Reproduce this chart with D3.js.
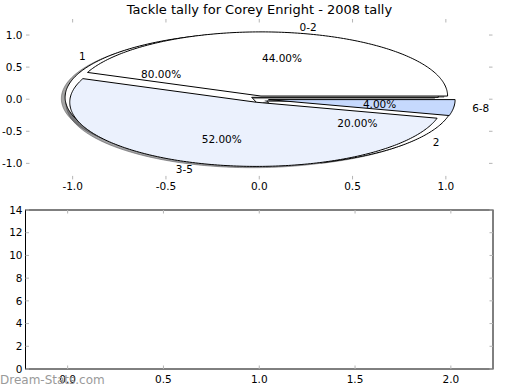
<!DOCTYPE html>
<html>
<head>
<meta charset="utf-8">
<script src="https://cdn.jsdelivr.net/npm/d3@7"></script>
<style>
  html, body { margin: 0; padding: 0; background: #fff; }
  text { font-family: "DejaVu Sans", sans-serif; }
</style>
</head>
<body>
<svg id="chart" width="520" height="390"></svg>
<script>
// ---------------- data ----------------
const title = "Tackle tally for Corey Enright - 2008 tally";
// first pie (drawn underneath)
const pieBLabels = ["1", "2"];
const pieBValues = [80, 20];
const pieBColors = ["#ffffff", "#ffffff"];
// second pie (drawn on top)
const pieALabels = ["0-2", "3-5", "6-8"];
const pieAValues = [44, 52, 4];
const pieAColors = ["#ffffff", "#ebf1fd", "#c6d9fd"];
const explodeAmount = 0.05;
const pieTicks = [-1.0, -0.5, 0.0, 0.5, 1.0];
const barXTicks = [0.0, 0.5, 1.0, 1.5, 2.0];
const barYTicks = [0, 2, 4, 6, 8, 10, 12, 14];
const watermark = "Dream-Stats.com";

// ---------------- layout ----------------
const svg = d3.select("#chart");
const fmt1 = d3.format(".1f");
const fmtTick = v => fmt1(v).replace("\u2212", "-");

const xP = d3.scaleLinear().domain([-1.25, 1.25]).range([26, 492.5]);
const yP = d3.scaleLinear().domain([-1.25, 1.25]).range([179.4, 19]);

const xB = d3.scaleLinear().domain([-0.22, 2.22]).range([25.5, 493]);
const yB = d3.scaleLinear().domain([0, 14]).range([369, 210]);

// title
svg.append("text")
  .attr("x", 259.5).attr("y", 13.5)
  .attr("text-anchor", "middle")
  .style("font-size", "13px")
  .text(title);

// ---------------- pie axes ticks ----------------
const tickCol = "#b4b4b4";
const gPT = svg.append("g");
pieTicks.forEach(v => {
  gPT.append("line").attr("x1", xP(v)).attr("x2", xP(v)).attr("y1", yP(-1.25)).attr("y2", yP(-1.25) - 3.5).attr("stroke", tickCol);
  gPT.append("line").attr("x1", xP(v)).attr("x2", xP(v)).attr("y1", yP(1.25)).attr("y2", yP(1.25) + 3.5).attr("stroke", tickCol);
  gPT.append("line").attr("y1", yP(v)).attr("y2", yP(v)).attr("x1", xP(-1.25)).attr("x2", xP(-1.25) + 3.5).attr("stroke", tickCol);
  gPT.append("line").attr("y1", yP(v)).attr("y2", yP(v)).attr("x1", xP(1.25)).attr("x2", xP(1.25) - 3.5).attr("stroke", tickCol);
  gPT.append("text").attr("x", xP(v)).attr("y", 186.5).attr("dy", "0.36em")
    .attr("text-anchor", "middle").style("font-size", "10.5px").text(fmtTick(v));
  gPT.append("text").attr("x", 22.5).attr("y", yP(v)).attr("dy", "0.36em")
    .attr("text-anchor", "end").style("font-size", "10.5px").text(fmtTick(v));
});

// ---------------- pies ----------------
const line = d3.line().x(p => xP(p[0])).y(p => yP(p[1]));
function wedgePoints(cx, cy, r, t1, t2) {
  const pts = [[cx, cy]];
  const n = Math.max(2, Math.ceil((t2 - t1) / (Math.PI / 180)));
  for (let i = 0; i <= n; i++) {
    const t = t1 + (t2 - t1) * i / n;
    pts.push([cx + r * Math.cos(t), cy + r * Math.sin(t)]);
  }
  return pts;
}
function buildPie(labels, values, colors) {
  const arcs = d3.pie().sort(null).value(d => d)(values);
  return arcs.map((a, i) => {
    const t1 = a.startAngle, t2 = a.endAngle, tm = (t1 + t2) / 2;
    const cx = explodeAmount * Math.cos(tm), cy = explodeAmount * Math.sin(tm);
    const frac = a.value / d3.sum(values);
    return { label: labels[i], color: colors[i], t1, t2, tm, cx, cy, pct: frac * 100,
             pts: wedgePoints(cx, cy, 1, t1, t2) };
  });
}
const pieB = buildPie(pieBLabels, pieBValues, pieBColors);
const pieA = buildPie(pieALabels, pieAValues, pieAColors);
const allW = pieB.concat(pieA);

// shadows (under all wedges)
const gSh = svg.append("g");
allW.forEach(w => {
  const c = d3.rgb(w.color);
  const sc = d3.rgb(c.r * 0.3, c.g * 0.3, c.b * 0.3);
  gSh.append("path")
    .attr("d", line(w.pts.map(p => [p[0] - 0.02, p[1] - 0.02])) + "Z")
    .attr("fill", sc).attr("fill-opacity", 0.5)
    .attr("stroke", sc).attr("stroke-opacity", 0.5).attr("stroke-width", 1);
});
// wedges
const gW = svg.append("g");
allW.forEach(w => {
  gW.append("path")
    .attr("d", line(w.pts) + "Z")
    .attr("fill", w.color)
    .attr("stroke", "#000").attr("stroke-width", 1)
    .attr("stroke-linejoin", "miter");
});
// labels
const gL = svg.append("g").style("font-size", "10.5px");
allW.forEach(w => {
  const lx = w.cx + 1.1 * Math.cos(w.tm), ly = w.cy + 1.1 * Math.sin(w.tm);
  gL.append("text").attr("x", xP(lx)).attr("y", yP(ly)).attr("dy", "0.36em")
    .attr("text-anchor", lx > 0 ? "start" : "end").text(w.label);
  const px = w.cx + 0.6 * Math.cos(w.tm), py = w.cy + 0.6 * Math.sin(w.tm);
  gL.append("text").attr("x", xP(px)).attr("y", yP(py)).attr("dy", "0.36em")
    .attr("text-anchor", "middle").text(w.pct.toFixed(2) + "%");
});

// ---------------- bottom (empty) axes ----------------
const gB = svg.append("g");
gB.append("rect").attr("x", xB(-0.22)).attr("y", yB(14))
  .attr("width", xB(2.22) - xB(-0.22)).attr("height", yB(0) - yB(14))
  .attr("fill", "none").attr("stroke", "#000").attr("stroke-width", 1);
barXTicks.forEach(v => {
  gB.append("line").attr("x1", xB(v)).attr("x2", xB(v)).attr("y1", yB(0)).attr("y2", yB(0) - 3.5).attr("stroke", tickCol);
  gB.append("line").attr("x1", xB(v)).attr("x2", xB(v)).attr("y1", yB(14)).attr("y2", yB(14) + 3.5).attr("stroke", tickCol);
  gB.append("text").attr("x", xB(v)).attr("y", 379).attr("dy", "0.36em")
    .attr("text-anchor", "middle").style("font-size", "10.5px").text(fmtTick(v));
});
barYTicks.forEach(v => {
  gB.append("line").attr("y1", yB(v)).attr("y2", yB(v)).attr("x1", xB(-0.22)).attr("x2", xB(-0.22) + 3.5).attr("stroke", tickCol);
  gB.append("line").attr("y1", yB(v)).attr("y2", yB(v)).attr("x1", xB(2.22)).attr("x2", xB(2.22) - 3.5).attr("stroke", tickCol);
  gB.append("text").attr("x", 22.5).attr("y", yB(v)).attr("dy", "0.36em")
    .attr("text-anchor", "end").style("font-size", "10.5px").text(v);
});

// watermark
svg.append("text").attr("x", 0).attr("y", 380).attr("dy", "0.36em")
  .style("font-size", "12px").attr("fill", "#9a9a9a").text(watermark);
</script>
</body>
</html>
